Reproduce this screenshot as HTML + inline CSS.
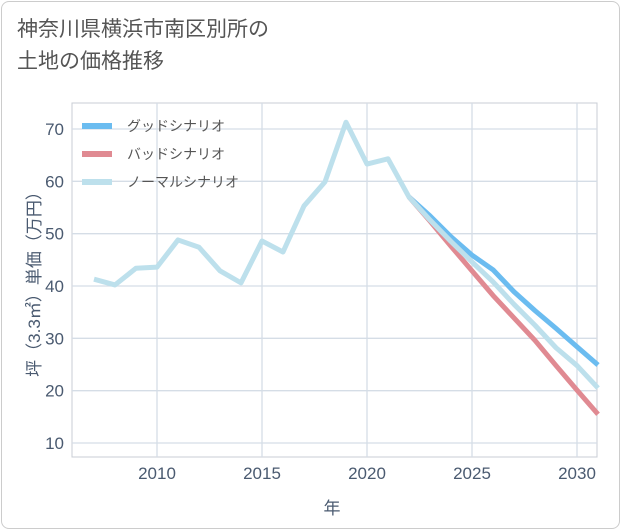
<!DOCTYPE html>
<html><head><meta charset="utf-8"><style>
body{margin:0;background:#fff;font-family:"Liberation Sans","Noto Sans CJK JP",sans-serif;}
#card{position:absolute;left:1px;top:1px;width:617px;height:526px;border:1px solid #ccc;border-radius:8px;background:#fff;}
#title{position:absolute;left:17px;top:14px;font-size:21px;line-height:32px;color:#555;}
</style></head><body>
<div id="card"></div>
<div id="title">神奈川県横浜市南区別所の<br>土地の価格推移</div>
<svg id="chart" width="621" height="530" style="position:absolute;left:0;top:0"></svg>
<script>
const years=[2007,2008,2009,2010,2011,2012,2013,2014,2015,2016,2017,2018,2019,2020,2021,2022,2023,2024,2025,2026,2027,2028,2029,2030,2031];
const normalVals=[41.3,40.2,43.4,43.6,48.8,47.4,42.9,40.6,48.6,46.5,55.3,59.9,71.3,63.3,64.3,57.0,52.6,48.5,44.6,40.8,36.5,32.5,28.2,24.8,20.5];
const futYears=[2022,2023,2024,2025,2026,2027,2028,2029,2030,2031];
const goodVals=[57.0,53.4,49.4,45.9,43.1,38.9,35.3,31.9,28.4,24.9];
const badVals=[57.0,52.4,47.6,42.9,38.2,33.9,29.6,24.8,20.1,15.5];
const xTicks=[2010,2015,2020,2025,2030];
const yTicks=[10,20,30,40,50,60,70];
const seriesNames=["グッドシナリオ","バッドシナリオ","ノーマルシナリオ"];
const L=72,R=597,T=103,B=457;
const xs=v=>157+(v-2010)*21;
const ys=v=>443-(v-10)*314/60;
const svg=document.getElementById('chart');
const NS='http://www.w3.org/2000/svg';
function mk(tag,attrs,parent){const e=document.createElementNS(NS,tag);for(const k in attrs)e.setAttribute(k,attrs[k]);(parent||svg).appendChild(e);return e;}
const frame=mk('rect',{x:L,y:T,width:R-L,height:B-T,fill:'none',stroke:'#c8cdd4','stroke-width':1});

yTicks.forEach(v=>{const g=mk('line',{x1:L,x2:R,y1:ys(v),y2:ys(v),stroke:'#d5dde6','stroke-width':1.3});

const t=mk('text',{x:L-8,y:ys(v)+6,'text-anchor':'end','font-size':17,fill:'#4a5a70'});t.textContent=v;
});
xTicks.forEach(v=>{const g=mk('line',{x1:xs(v),x2:xs(v),y1:T,y2:B,stroke:'#d5dde6','stroke-width':1.3});

const t=mk('text',{x:xs(v),y:B+22,'text-anchor':'middle','font-size':17,fill:'#4a5a70'});t.textContent=v;
});
function line(xv,yv,color,name){const d=xv.map((x,i)=>(i?'L':'M')+xs(x)+','+ys(yv[i])).join('');
const p=mk('path',{d:d,fill:'none',stroke:color,'stroke-width':5,'stroke-linejoin':'round'});
}
line(futYears,goodVals,'#6bbcf0','good-scenario-line');
line(futYears,badVals,'#e08a92','bad-scenario-line');
line(years,normalVals,'#bde0ec','normal-scenario-line');
const colors=['#6bbcf0','#e08a92','#bde0ec'];
seriesNames.forEach((n,i)=>{const y=126+i*28;
const l=mk('line',{x1:82,x2:112,y1:y,y2:y,stroke:colors[i],'stroke-width':6});

const t=mk('text',{x:127,y:y+5,'font-size':14,fill:'#555'});t.textContent=n;
});
const xt=mk('text',{x:332,y:514,'text-anchor':'middle','font-size':17,fill:'#4a5a70'});xt.textContent='年';

const yt=mk('text',{x:0,y:0,'text-anchor':'middle','font-size':17,fill:'#4a5a70',transform:'translate(40,280) rotate(-90)'});yt.textContent='坪（3.3㎡）単価（万円）';

</script>
</body></html>
